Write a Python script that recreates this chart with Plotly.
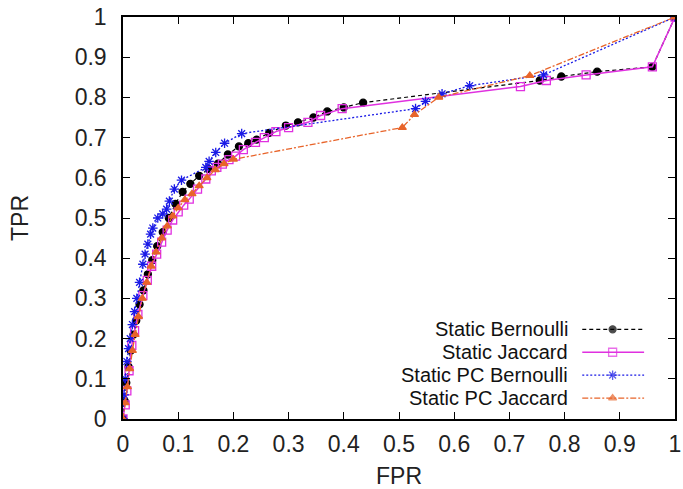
import plotly.graph_objects as go

# ---------------- data ----------------
bern_x = [0, 0.003, 0.006, 0.01, 0.014, 0.019, 0.024, 0.03, 0.037, 0.045, 0.053, 0.062, 0.072,
          0.083, 0.095, 0.108, 0.122, 0.138, 0.155, 0.172, 0.19, 0.21, 0.227, 0.242, 0.265,
          0.295, 0.317, 0.345, 0.37, 0.40, 0.435, 0.755, 0.794, 0.859, 0.959, 1]
bern_y = [0, 0.045, 0.09, 0.13, 0.17, 0.21, 0.245, 0.285, 0.32, 0.36, 0.395, 0.43, 0.465,
          0.5, 0.535, 0.565, 0.585, 0.605, 0.622, 0.635, 0.658, 0.678, 0.686, 0.695, 0.712,
          0.73, 0.738, 0.75, 0.765, 0.775, 0.787, 0.842, 0.852, 0.864, 0.876, 1]

jac_x = [0, 0.004, 0.007, 0.011, 0.016, 0.021, 0.027, 0.036, 0.044, 0.052, 0.061, 0.07, 0.08,
         0.09, 0.1, 0.11, 0.12, 0.135, 0.15, 0.16, 0.17, 0.18, 0.192, 0.204, 0.218, 0.24,
         0.256, 0.277, 0.3, 0.335, 0.358, 0.397, 0.72, 0.767, 0.839, 0.959, 1]
jac_y = [0, 0.035, 0.07, 0.12, 0.183, 0.22, 0.26, 0.307, 0.345, 0.38, 0.41, 0.44, 0.47,
         0.495, 0.515, 0.532, 0.547, 0.572, 0.597, 0.617, 0.626, 0.634, 0.645, 0.654, 0.67,
         0.688, 0.70, 0.715, 0.725, 0.738, 0.755, 0.772, 0.827, 0.842, 0.856, 0.876, 1]

pcb_x = [0, 0.002, 0.004, 0.007, 0.01, 0.013, 0.017, 0.021, 0.025, 0.03, 0.036, 0.04, 0.045,
         0.05, 0.054, 0.063, 0.072, 0.079, 0.084, 0.093, 0.106, 0.15, 0.156, 0.168, 0.184,
         0.215, 0.53, 0.548, 0.578, 0.628, 0.762, 1]
pcb_y = [0, 0.06, 0.1, 0.143, 0.175, 0.2, 0.235, 0.267, 0.3, 0.34, 0.385, 0.41, 0.435,
         0.46, 0.475, 0.5, 0.51, 0.522, 0.542, 0.572, 0.594, 0.626, 0.641, 0.663, 0.686,
         0.71, 0.772, 0.79, 0.809, 0.829, 0.856, 1]

pcj_x = [0, 0.004, 0.008, 0.012, 0.017, 0.022, 0.028, 0.035, 0.043, 0.051, 0.06, 0.07, 0.08,
         0.09, 0.1, 0.112, 0.125, 0.138, 0.152, 0.167, 0.183, 0.2, 0.506, 0.528, 0.572,
         0.737, 1]
pcj_y = [0, 0.04, 0.08, 0.125, 0.17, 0.21, 0.255, 0.3, 0.34, 0.38, 0.415, 0.45, 0.48,
         0.505, 0.525, 0.545, 0.56, 0.58, 0.6, 0.62, 0.635, 0.646, 0.725, 0.757, 0.80,
         0.854, 1]

series_names = ["Static Bernoulli", "Static Jaccard", "Static PC Bernoulli", "Static PC Jaccard"]
tick_vals = [0, 0.1, 0.2, 0.3, 0.4, 0.5, 0.6, 0.7, 0.8, 0.9, 1]
tick_text = ["0", "0.1", "0.2", "0.3", "0.4", "0.5", "0.6", "0.7", "0.8", "0.9", "1"]

# ---------------- styles ----------------
styles = [
    dict(color="#000000", dash="4px,3px", symbol="circle", size=7, lw=1.2),
    dict(color="#e030e0", dash="solid", symbol="square-open", size=8, lw=1.5),
    dict(color="#1a1ae6", dash="2px,2px", symbol="asterisk-open", size=8, lw=1.3),
    dict(color="#e8642a", dash="6px,2px,2px,2px", symbol="triangle-up", size=7, lw=1.3),
]
data = [(bern_x, bern_y), (jac_x, jac_y), (pcb_x, pcb_y), (pcj_x, pcj_y)]

FONT = "Liberation Sans, Arial, sans-serif"
FS = 23
LFS = 20
fig = go.Figure()

for (xs, ys), st, name in zip(data, styles, series_names):
    fig.add_trace(go.Scatter(
        x=xs, y=ys, mode="lines+markers", name=name, showlegend=False,
        line=dict(color=st["color"], dash=st["dash"], width=st["lw"]),
        marker=dict(symbol=st["symbol"], size=st["size"], color=st["color"],
                    line=dict(color=st["color"], width=1.3)),
    ))

# manual legend (text right, sample on the right) on an overlay axis
row_y = [0.223, 0.166, 0.109, 0.052]
for st, name, ry in zip(styles, series_names, row_y):
    fig.add_trace(go.Scatter(
        x=[0.832, 0.887, 0.944], y=[ry, ry, ry], xaxis="x2", yaxis="y2",
        mode="lines+markers", showlegend=False, hoverinfo="skip",
        line=dict(color=st["color"], dash=st["dash"], width=st["lw"]),
        marker=dict(symbol=st["symbol"], size=[0, st["size"], 0], color=st["color"],
                    line=dict(color=st["color"], width=1.3)),
    ))
    fig.add_annotation(x=0.808, y=ry, xref="paper", yref="paper", text=name,
                       showarrow=False, xanchor="right", yanchor="middle", borderpad=0,
                       font=dict(family=FONT, size=LFS, color="#111"))

axis_common = dict(
    range=[0, 1], tickvals=tick_vals, ticktext=tick_text, ticks="inside", ticklen=7,
    tickwidth=1.2, tickcolor="#000", showline=True, linecolor="#000", linewidth=1.5,
    mirror="ticks", showgrid=False, zeroline=False, ticklabeloverflow="allow",
    tickfont=dict(family=FONT, size=FS, color="#222"),
)

fig.update_layout(
    width=683, height=489,
    margin=dict(l=123, r=2, t=17, b=68),
    paper_bgcolor="white", plot_bgcolor="white",
    xaxis=dict(**axis_common, title=dict(text="FPR", font=dict(family=FONT, size=FS, color="#222"), standoff=14),
               ticklabelstandoff=4),
    yaxis=dict(**axis_common, title=dict(text="TPR", font=dict(family=FONT, size=FS, color="#222"), standoff=40),
               ticklabelstandoff=10),
    xaxis2=dict(range=[0, 1], overlaying="x", visible=False, fixedrange=True),
    yaxis2=dict(range=[0, 1], overlaying="y", visible=False, fixedrange=True),
    showlegend=False,
)

fig.write_html("out.html")
